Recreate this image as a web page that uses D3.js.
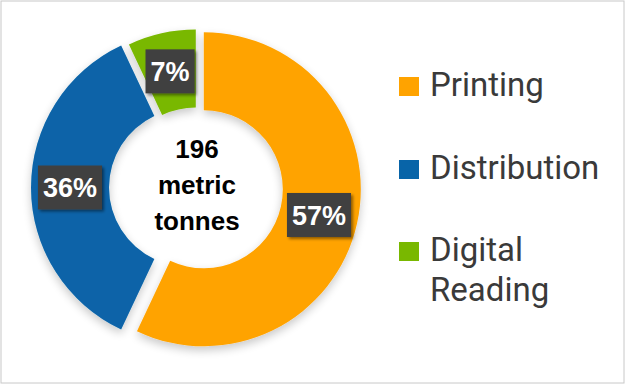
<!DOCTYPE html>
<html>
<head>
<meta charset="utf-8">
<script src="https://cdn.jsdelivr.net/npm/d3@7"></script>
<style>
  html, body { margin: 0; padding: 0; background: #fff; }
  svg { display: block; }
</style>
</head>
<body>
<svg id="chart" width="625" height="384"></svg>
<script>
// ---- data ----
const categories = ["Printing", "Distribution", "Digital Reading"];
const values = [57, 36, 7];
const valueLabels = ["57%", "36%", "7%"];
const centerLines = ["196", "metric", "tonnes"];
const colors = ["#FFA300", "#0864A8", "#79B800"];

// ---- layout / style ----
const W = 625, H = 384;
const cx = 196, cy = 187.5;
const outerR = 157, innerR = 79;
const explode = [8, 8, 1];

const svg = d3.select("#chart");

svg.append("rect")
  .attr("x", 1).attr("y", 1).attr("width", W - 2).attr("height", H - 2)
  .attr("fill", "#fff").attr("stroke", "#c8c8c8").attr("stroke-width", 1);

const defs = svg.append("defs");
const f = defs.append("filter").attr("id", "shadow")
  .attr("x", "-20%").attr("y", "-20%").attr("width", "140%").attr("height", "140%");
f.append("feGaussianBlur").attr("in", "SourceAlpha").attr("stdDeviation", 5).attr("result", "b");
f.append("feOffset").attr("in", "b").attr("dx", 0).attr("dy", 4).attr("result", "o");
f.append("feComponentTransfer").attr("in", "o").attr("result", "s")
  .append("feFuncA").attr("type", "linear").attr("slope", 0.22);
const m = f.append("feMerge");
m.append("feMergeNode").attr("in", "s");
m.append("feMergeNode").attr("in", "SourceGraphic");

const f2 = defs.append("filter").attr("id", "boxshadow")
  .attr("x", "-20%").attr("y", "-20%").attr("width", "150%").attr("height", "150%");
f2.append("feGaussianBlur").attr("in", "SourceAlpha").attr("stdDeviation", 1.5).attr("result", "b");
f2.append("feOffset").attr("in", "b").attr("dx", 2).attr("dy", 2).attr("result", "o");
f2.append("feComponentTransfer").attr("in", "o").attr("result", "s")
  .append("feFuncA").attr("type", "linear").attr("slope", 0.45);
const m2 = f2.append("feMerge");
m2.append("feMergeNode").attr("in", "s");
m2.append("feMergeNode").attr("in", "SourceGraphic");

const pie = d3.pie().sort(null).value(d => d)(values);
const arc = d3.arc().innerRadius(innerR).outerRadius(outerR);
const midArc = d3.arc().innerRadius((innerR + outerR) / 2).outerRadius((innerR + outerR) / 2);

function offset(d, i) {
  const a = (d.startAngle + d.endAngle) / 2;
  return [cx + explode[i] * Math.sin(a), cy - explode[i] * Math.cos(a)];
}

const ring = svg.append("g").attr("filter", "url(#shadow)");
ring.selectAll("path").data(pie).join("path")
  .attr("transform", (d, i) => { const o = offset(d, i); return `translate(${o[0]},${o[1]})`; })
  .attr("d", arc)
  .attr("fill", (d, i) => colors[i]);

// value labels
const lab = svg.append("g").selectAll("g").data(pie).join("g")
  .attr("transform", (d, i) => {
    const o = offset(d, i); const c = midArc.centroid(d);
    return `translate(${o[0] + c[0]},${o[1] + c[1]})`;
  });
lab.each(function(d, i) {
  const g = d3.select(this);
  const rect = g.append("rect").attr("fill", "#404040").attr("filter", "url(#boxshadow)");
  const t = g.append("text")
    .attr("text-anchor", "middle").attr("dy", "0.36em")
    .attr("font-family", "Liberation Sans, Arial, sans-serif")
    .attr("font-weight", "bold").attr("font-size", 27).attr("fill", "#fff")
    .text(valueLabels[i]);
  const w = t.node().getComputedTextLength() + 10;
  rect.attr("x", -w / 2).attr("y", -22).attr("width", w).attr("height", 44);
});

// center text
svg.append("text")
  .attr("text-anchor", "middle")
  .attr("font-family", "Liberation Sans, Arial, sans-serif")
  .attr("font-weight", "bold").attr("font-size", 26).attr("fill", "#000")
  .selectAll("tspan").data(centerLines).join("tspan")
  .attr("x", 197).attr("y", (d, i) => 158 + i * 36)
  .text(d => d);

// legend
const legY = [96, 179, 261];
const leg = svg.append("g").selectAll("g").data(categories).join("g")
  .attr("transform", (d, i) => `translate(399,${legY[i]})`);
leg.append("rect").attr("x", 0).attr("y", -19).attr("width", 20).attr("height", 19)
  .attr("fill", (d, i) => colors[i]);
leg.append("text")
  .attr("font-family", "Roboto, sans-serif").attr("font-size", 33).attr("fill", "#3a3a3a")
  .selectAll("tspan").data(d => d === "Digital Reading" ? ["Digital", "Reading"] : [d]).join("tspan")
  .attr("x", 31).attr("y", (d, j) => j * 40)
  .text(d => d);
</script>
</body>
</html>
